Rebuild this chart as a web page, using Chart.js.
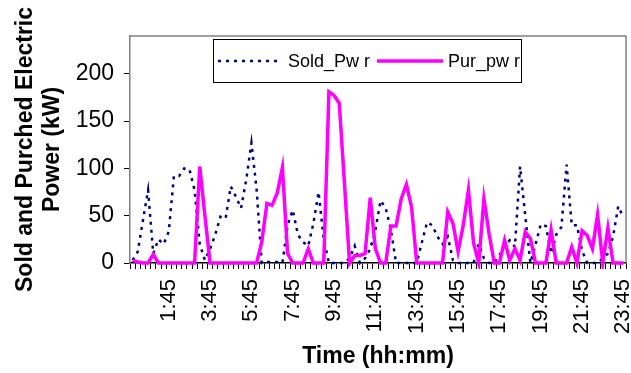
<!DOCTYPE html>
<html>
<head>
<meta charset="utf-8">
<script src="https://cdn.jsdelivr.net/npm/chart.js@4.4.1/dist/chart.umd.min.js"></script>
<style>
  html, body { margin: 0; padding: 0; background: #fff; }
  #wrap { width: 631px; height: 373px; position: relative; }
</style>
</head>
<body>
<div id="wrap"><canvas id="power-chart"></canvas></div>
<script>
// 15-minute time steps over the day
const timeLabels = [
  "0:00", "0:15", "0:30", "0:45", "1:00", "1:15", "1:30", "1:45",
  "2:00", "2:15", "2:30", "2:45", "3:00", "3:15", "3:30", "3:45",
  "4:00", "4:15", "4:30", "4:45", "5:00", "5:15", "5:30", "5:45",
  "6:00", "6:15", "6:30", "6:45", "7:00", "7:15", "7:30", "7:45",
  "8:00", "8:15", "8:30", "8:45", "9:00", "9:15", "9:30", "9:45",
  "10:00", "10:15", "10:30", "10:45", "11:00", "11:15", "11:30", "11:45",
  "12:00", "12:15", "12:30", "12:45", "13:00", "13:15", "13:30", "13:45",
  "14:00", "14:15", "14:30", "14:45", "15:00", "15:15", "15:30", "15:45",
  "16:00", "16:15", "16:30", "16:45", "17:00", "17:15", "17:30", "17:45",
  "18:00", "18:15", "18:30", "18:45", "19:00", "19:15", "19:30", "19:45",
  "20:00", "20:15", "20:30", "20:45", "21:00", "21:15", "21:30", "21:45",
  "22:00", "22:15", "22:30", "22:45", "23:00", "23:15", "23:30", "23:45"
];

// labels actually printed under the axis
const shownTicks = ["1:45", "3:45", "5:45", "7:45", "9:45", "11:45",
  "13:45", "15:45", "17:45", "19:45", "21:45", "23:45"];

const yTicks = [0, 50, 100, 150, 200];

const soldPwr = [
  3, 12, 45, 77, 10, 25, 20, 33, 92, 92,
  100, 99, 77, 20, 3, 15, 30, 49, 47, 81,
  70, 58, 88, 127, 78, 0, 1, 1, 1, 0,
  40, 56, 30, 22, 18, 42, 75, 25, 0, 0,
  0, 0, 5, 18, 0, 5, 15, 35, 66, 58,
  35, 0, 0, 0, 0, 0, 22, 43, 40, 28,
  20, 28, 3, 0, 0, 0, 0, 20, 5, 0,
  0, 8, 18, 24, 17, 102, 50, 0, 20, 41,
  39, 10, 30, 38, 104, 40, 40, 13, 0, 0,
  0, 5, 10, 28, 60, 48
];

const purPwr = [
  3, 1, 0, 0, 9, 0, 0, 0, 0, 0,
  0, 0, 0, 102, 50, 0, 0, 0, 0, 0,
  0, 0, 0, 0, 0, 22, 63, 61, 74, 101,
  10, 0, 0, 0, 15, 0, 0, 0, 181, 177,
  169, 85, 0, 8, 8, 10, 69, 15, 0, 0,
  39, 39, 68, 83, 59, 0, 0, 0, 0, 0,
  0, 54, 42, 12, 40, 77, 21, 0, 68, 31,
  0, 0, 24, 3, 15, 3, 33, 26, 0, 0,
  0, 35, 0, 0, 0, 17, 0, 34, 29, 15,
  51, 0, 37, 0, 0, 0
];

const FONT = '"Liberation Sans", Arial, sans-serif';

// gray frame round the plot area, like the Excel plot box
const plotFrame = {
  id: "plotFrame",
  beforeDatasetsDraw(chart) {
    const a = chart.chartArea;
    const ctx = chart.ctx;
    ctx.save();
    ctx.strokeStyle = "#808080";
    ctx.lineWidth = 1.5;
    ctx.beginPath();
    ctx.moveTo(a.left, a.top);
    ctx.lineTo(a.right, a.top);
    ctx.lineTo(a.right, a.bottom);
    ctx.stroke();
    ctx.restore();
  }
};

// boxed legend sitting inside the plot
const boxLegend = {
  id: "boxLegend",
  afterDatasetsDraw(chart) {
    const ctx = chart.ctx;
    const sets = chart.data.datasets;
    const items = [
      { lineFrom: 218, lineTo: 282, textX: 288 },
      { lineFrom: 377, lineTo: 443, textX: 448 }
    ];
    const y = 61;
    ctx.save();
    ctx.fillStyle = "#fff";
    ctx.fillRect(213, 39, 309, 44);
    ctx.strokeStyle = "#000";
    ctx.lineWidth = 1;
    ctx.strokeRect(213.5, 39.5, 308, 43);
    sets.forEach((ds, i) => {
      const it = items[i];
      ctx.strokeStyle = ds.borderColor;
      ctx.lineWidth = ds.borderWidth;
      ctx.setLineDash(ds.borderDash || []);
      ctx.beginPath();
      ctx.moveTo(it.lineFrom, y);
      ctx.lineTo(it.lineTo, y);
      ctx.stroke();
      ctx.setLineDash([]);
      ctx.fillStyle = "#000";
      ctx.font = "18px " + FONT;
      ctx.textBaseline = "middle";
      ctx.textAlign = "left";
      ctx.fillText(ds.label, it.textX, y + 1);
    });
    ctx.restore();
  }
};

function buildChart() {
  const canvas = document.getElementById("power-chart");
  new Chart(canvas, {
    type: "line",
    data: {
      labels: timeLabels,
      datasets: [
        {
          label: "Sold_Pw r",
          data: soldPwr,
          borderColor: "#000080",
          borderWidth: 2.5,
          borderDash: [3, 5],
          pointRadius: 0,
          tension: 0,
          fill: false,
          clip: 6,
          order: 1
        },
        {
          label: "Pur_pw r",
          data: purPwr,
          borderColor: "#ff00ff",
          borderWidth: 3.5,
          pointRadius: 0,
          tension: 0,
          fill: false,
          clip: 6,
          order: 0
        }
      ]
    },
    options: {
      responsive: true,
      maintainAspectRatio: false,
      animation: false,
      layout: {
        padding: { top: 36, right: 5, left: 0, bottom: 0 }
      },
      plugins: {
        legend: { display: false },
        tooltip: { enabled: false }
      },
      scales: {
        x: {
          type: "category",
          offset: true,
          afterFit: (scale) => {
            scale.height = 110;
            scale.paddingLeft = 0;
            scale.paddingRight = 0;
          },
          grid: {
            offset: true,
            drawOnChartArea: false,
            drawTicks: true,
            tickLength: 6,
            color: "#000"
          },
          border: { color: "#000", width: 1.5 },
          ticks: {
            autoSkip: false,
            minRotation: 90,
            maxRotation: 90,
            padding: 10,
            color: "#000",
            font: { family: FONT, size: 22 },
            callback: function (value) {
              const lab = this.getLabelForValue(value);
              return shownTicks.includes(lab) ? lab : "";
            }
          },
          title: {
            display: true,
            text: "Time (hh:mm)",
            color: "#000",
            font: { family: FONT, size: 23, weight: "bold", lineHeight: 1.17 },
            padding: { top: 0, bottom: 3 }
          }
        },
        y: {
          min: 0,
          max: 240,
          afterFit: (scale) => {
            scale.width = 130;
            scale.paddingTop = 0;
            scale.paddingBottom = 0;
          },
          afterBuildTicks: (scale) => {
            scale.ticks = yTicks.map((v) => ({ value: v }));
          },
          grid: {
            drawOnChartArea: false,
            drawTicks: true,
            tickLength: 6,
            color: "#000"
          },
          border: { color: "#808080", width: 1.5 },
          ticks: {
            padding: 10,
            color: "#000",
            font: { family: FONT, size: 23 }
          },
          title: {
            display: true,
            text: ["Sold and Purched Electric", "Power (kW)"],
            color: "#000",
            font: { family: FONT, size: 23, weight: "bold", lineHeight: 1.17 },
            padding: { top: 12, bottom: 0 }
          }
        }
      }
    },
    plugins: [plotFrame, boxLegend]
  });
}

buildChart();
</script>
</body>
</html>
